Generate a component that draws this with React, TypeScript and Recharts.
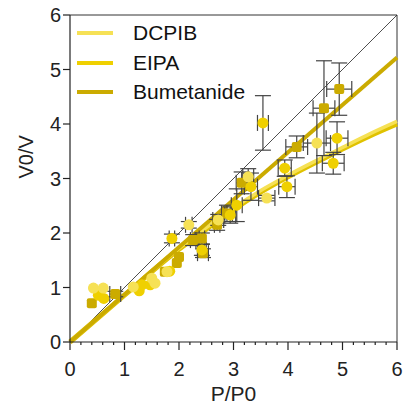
import {
  ComposedChart,
  Line,
  Scatter,
  ErrorBar,
  XAxis,
  YAxis,
  ReferenceLine,
} from 'recharts';

const FONT = '"Liberation Sans", Arial, sans-serif';

const COLORS = {
  DCPIB: '#f6e155',
  EIPA: '#efd000',
  Bumetanide: '#cbab00',
};

// x ticks every 0.2, labels on whole numbers
const xTicks = [
  0, 0.2, 0.4, 0.6, 0.8, 1, 1.2, 1.4, 1.6, 1.8, 2, 2.2, 2.4, 2.6, 2.8, 3, 3.2,
  3.4, 3.6, 3.8, 4, 4.2, 4.4, 4.6, 4.8, 5, 5.2, 5.4, 5.6, 5.8, 6,
];
const yTicks = [0, 1, 2, 3, 4, 5, 6];

// fitted curves
const fitX = [0, 1, 2, 2.5, 3, 3.5, 4, 4.5, 5, 5.5, 6];
const dcpibFit = [0, 0.87, 1.72, 2.1, 2.46, 2.78, 3.06, 3.32, 3.57, 3.82, 4.05];
const eipaFit = [0, 0.86, 1.7, 2.07, 2.43, 2.75, 3.03, 3.29, 3.54, 3.78, 4.0];
const bumetanideFitX = [0, 6];
const bumetanideFit = [0, 5.22];

// points: [x, y, xErr, yErr]
const dcpibPts = [
  [0.43, 0.99, 0, 0],
  [0.61, 0.99, 0, 0],
  [1.16, 1.01, 0, 0],
  [1.5, 1.17, 0, 0],
  [1.56, 1.08, 0, 0],
  [1.78, 1.29, 0, 0],
  [2.18, 2.15, 0.06, 0.06],
  [2.72, 2.24, 0.1, 0.1],
  [3.27, 3.03, 0.1, 0.15],
  [3.61, 2.64, 0.15, 0.05],
  [4.53, 3.65, 0.25, 0.55],
];
const eipaPts = [
  [0.52, 0.86, 0, 0],
  [0.62, 0.8, 0, 0],
  [1.27, 0.94, 0, 0],
  [1.32, 1.05, 0, 0],
  [1.47, 1.05, 0, 0],
  [1.83, 1.3, 0, 0],
  [1.87, 1.9, 0.05, 0.08],
  [2.42, 1.69, 0.08, 0.1],
  [2.94, 2.33, 0.1, 0.15],
  [3.06, 2.51, 0.1, 0.3],
  [3.32, 2.85, 0.12, 0.25],
  [3.54, 4.02, 0.1, 0.5],
  [3.94, 3.19, 0.12, 0.15],
  [3.98, 2.85, 0.15, 0.2],
  [4.83, 3.28, 0.2, 0.2],
  [4.9, 3.74, 0.2, 0.3],
];
const bumetanidePts = [
  [0.4, 0.71, 0, 0],
  [0.83, 0.88, 0.1, 0.05],
  [1.74, 1.29, 0, 0],
  [1.96, 1.45, 0, 0],
  [2.0, 1.56, 0, 0],
  [2.26, 1.87, 0.05, 0.1],
  [2.42, 1.9, 0.05, 0.1],
  [2.44, 1.63, 0.1, 0.08],
  [2.7, 2.15, 0.05, 0.1],
  [2.88, 2.36, 0.1, 0.15],
  [3.15, 2.92, 0.1, 0.2],
  [4.16, 3.58, 0.2, 0.2],
  [4.66, 4.29, 0.2, 0.87],
  [4.94, 4.64, 0.23, 0.48],
];

const toPts = (rows: number[][]) =>
  rows.map(([x, y, ex, ey]) => ({ x, y, ex, ey }));
const toLine = (xs: number[], ys: number[]) =>
  xs.map((x, i) => ({ x, y: ys[i] }));

const XTick = (props: any) => {
  const { x, y, payload } = props;
  const v = payload.value;
  const major = Math.abs(v - Math.round(v)) < 1e-6;
  return (
    <g>
      <line x1={x} x2={x} y1={y} y2={y + (major ? 8 : 3)} stroke='#222' strokeWidth={1.2} />
      {major && (
        <text x={x} y={y + 20} textAnchor='middle' dy='0.71em' fontSize={20} fill='#222' fontFamily={FONT}>
          {v}
        </text>
      )}
    </g>
  );
};

const dot = (color: string, square: boolean) => (p: any) =>
  square ? (
    <rect x={p.cx - 5} y={p.cy - 5} width={10} height={10} rx={2} fill={color} />
  ) : (
    <circle cx={p.cx} cy={p.cy} r={5.5} fill={color} />
  );

const legendRows = [
  { name: 'DCPIB', color: COLORS.DCPIB, top: 33 },
  { name: 'EIPA', color: COLORS.EIPA, top: 63 },
  { name: 'Bumetanide', color: COLORS.Bumetanide, top: 92 },
];

export default function App() {
  return (
    <div style={{ position: 'absolute', left: 0, top: 0, width: 403, height: 406, background: '#fff' }}>
      <ComposedChart
        width={403}
        height={406}
        margin={{ top: 15, right: 6, bottom: 0, left: 0 }}
        style={{ fontFamily: FONT }}
      >
        <XAxis
          type='number'
          dataKey='x'
          domain={[0, 6]}
          ticks={xTicks}
          interval={0}
          tickSize={0}
          tickMargin={0}
          tickLine={false}
          tick={<XTick />}
          height={64}
          axisLine={{ stroke: '#222', strokeWidth: 1.2 }}
          label={{ value: 'P/P0', position: 'insideBottom', offset: 5, fontSize: 21, fill: '#222' }}
        />
        <YAxis
          type='number'
          dataKey='y'
          domain={[0, 6]}
          ticks={yTicks}
          width={70}
          tickSize={7}
          tick={{ fontSize: 20, fill: '#222' }}
          tickLine={{ stroke: '#222', strokeWidth: 1.2 }}
          axisLine={{ stroke: '#222', strokeWidth: 1.2 }}
          label={{ value: 'V0/V', angle: -90, position: 'insideLeft', offset: 26, fontSize: 20, fill: '#222' }}
        />
        <ReferenceLine y={6} stroke='#333' strokeWidth={1} />
        <ReferenceLine x={6} stroke='#333' strokeWidth={1} />
        <ReferenceLine
          segment={[{ x: 0, y: 0 }, { x: 6, y: 6 }]}
          stroke='#222'
          strokeWidth={0.8}
        />
        <Line
          data={toLine(fitX, eipaFit)}
          dataKey='y'
          type='monotone'
          stroke='#e0c200'
          strokeWidth={5}
          dot={false}
          isAnimationActive={false}
        />
        <Line
          data={toLine(fitX, dcpibFit)}
          dataKey='y'
          type='monotone'
          stroke={COLORS.DCPIB}
          strokeWidth={3.5}
          dot={false}
          isAnimationActive={false}
        />
        <Line
          data={toLine(bumetanideFitX, bumetanideFit)}
          dataKey='y'
          type='linear'
          stroke={COLORS.Bumetanide}
          strokeWidth={4}
          dot={false}
          isAnimationActive={false}
        />
        <Scatter data={toPts(bumetanidePts)} shape={dot(COLORS.Bumetanide, true)} isAnimationActive={false}>
          <ErrorBar dataKey='ey' direction='y' width={8} stroke='#444' strokeWidth={1.2} />
          <ErrorBar dataKey='ex' direction='x' width={8} stroke='#444' strokeWidth={1.2} />
        </Scatter>
        <Scatter data={toPts(eipaPts)} shape={dot(COLORS.EIPA, false)} isAnimationActive={false}>
          <ErrorBar dataKey='ey' direction='y' width={8} stroke='#444' strokeWidth={1.2} />
          <ErrorBar dataKey='ex' direction='x' width={8} stroke='#444' strokeWidth={1.2} />
        </Scatter>
        <Scatter data={toPts(dcpibPts)} shape={dot(COLORS.DCPIB, false)} isAnimationActive={false}>
          <ErrorBar dataKey='ey' direction='y' width={8} stroke='#444' strokeWidth={1.2} />
          <ErrorBar dataKey='ex' direction='x' width={8} stroke='#444' strokeWidth={1.2} />
        </Scatter>
      </ComposedChart>
      {legendRows.map((r) => (
        <div key={r.name}>
          <div
            style={{
              position: 'absolute',
              left: 77,
              top: r.top - 2,
              width: 36,
              height: 4,
              background: r.color,
            }}
          />
          <div
            style={{
              position: 'absolute',
              left: 133,
              top: r.top - 13,
              fontFamily: FONT,
              fontSize: 21,
              lineHeight: '26px',
              color: '#111',
            }}
          >
            {r.name}
          </div>
        </div>
      ))}
    </div>
  );
}
